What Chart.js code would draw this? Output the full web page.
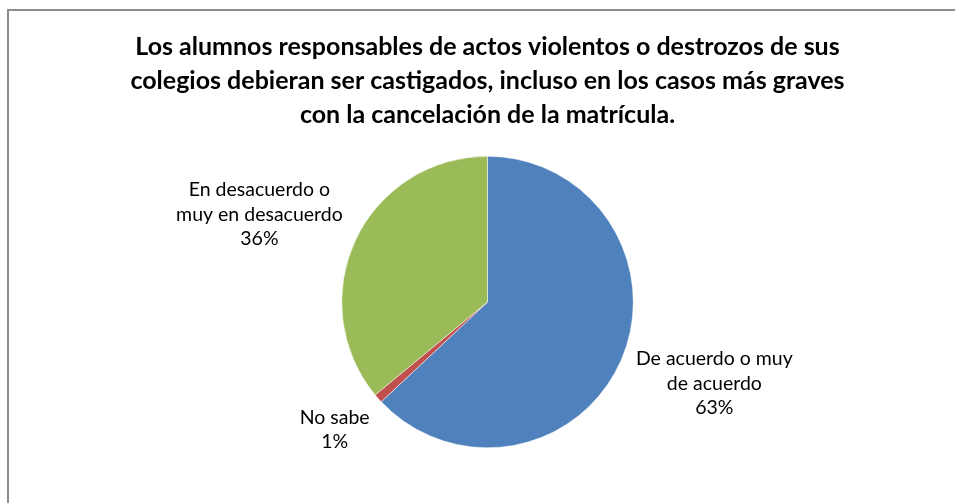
<!DOCTYPE html>
<html lang="es">
<head>
<meta charset="UTF-8">
<title>Cancelación de la matrícula</title>
<script src="https://cdn.jsdelivr.net/npm/chart.js@4.4.0/dist/chart.umd.min.js"></script>
<style>
    body { margin: 0; background: #fff; overflow: hidden; }
    .marco {
        position: absolute; left: 7px; top: 9px; right: -20px; bottom: -20px;
        border: 2px solid #8c8c8c;
    }
    .lienzo { position: absolute; left: 0; top: 0; width: 955px; height: 503px; }
</style>
</head>
<body>
<div class="marco"></div>
<div class="lienzo"><canvas id="torta" width="955" height="503"></canvas></div>
<script>
// datos
const categorias = [
    ['De acuerdo o muy', 'de acuerdo'],
    ['No sabe'],
    ['En desacuerdo o', 'muy en desacuerdo']
];
const porcentajes = [63, 1, 36];
const colores = ['#4F81BD', '#C0504D', '#9BBB59'];
const tituloLineas = [
    'Los alumnos responsables de actos violentos o destrozos de sus',
    'colegios debieran ser castigados, incluso en los casos más graves',
    'con la cancelación de la matrícula.'
];

const FUENTE = 'Lato, "Open Sans", sans-serif';

// etiquetas fuera de la torta, como en Excel
const etiquetas = {
    id: 'etiquetas',
    afterDatasetsDraw(chart) {
        const ctx = chart.ctx;
        const meta = chart.getDatasetMeta(0);
        const alto = 24.5;
        ctx.save();
        ctx.font = '19.5px ' + FUENTE;
        ctx.fillStyle = '#000';
        ctx.textAlign = 'center';
        ctx.textBaseline = 'middle';
        meta.data.forEach((arco, i) => {
            const lineas = categorias[i].concat([porcentajes[i] + '%']);
            const ancho = Math.max(...lineas.map(l => ctx.measureText(l).width));
            const h = lineas.length * alto;
            const medio = (arco.startAngle + arco.endAngle) / 2;
            const dx = Math.cos(medio), dy = Math.sin(medio);
            const d = arco.outerRadius + 23;
            const cx = arco.x + dx * d + dx * ancho / 2;
            const cy = arco.y + dy * d + dy * h / 2;
            lineas.forEach((l, k) => {
                ctx.fillText(l, cx, cy - h / 2 + alto * (k + 0.5));
            });
        });
        ctx.restore();
    }
};

new Chart(document.getElementById('torta'), {
    type: 'pie',
    data: {
        labels: categorias,
        datasets: [{
            data: porcentajes,
            backgroundColor: colores,
            borderColor: '#ffffff',
            borderWidth: 0.5
        }]
    },
    options: {
        responsive: false,
        animation: false,
        layout: { padding: { left: 20, right: 0, top: 0, bottom: 55 } },
        plugins: {
            legend: { display: false },
            tooltip: { enabled: false },
            title: {
                display: true,
                text: tituloLineas,
                color: '#000',
                font: { family: FUENTE, size: 25, weight: 'bold', lineHeight: 34 / 25 },
                padding: { top: 30, bottom: 24 }
            }
        }
    },
    plugins: [etiquetas]
});
</script>
</body>
</html>
